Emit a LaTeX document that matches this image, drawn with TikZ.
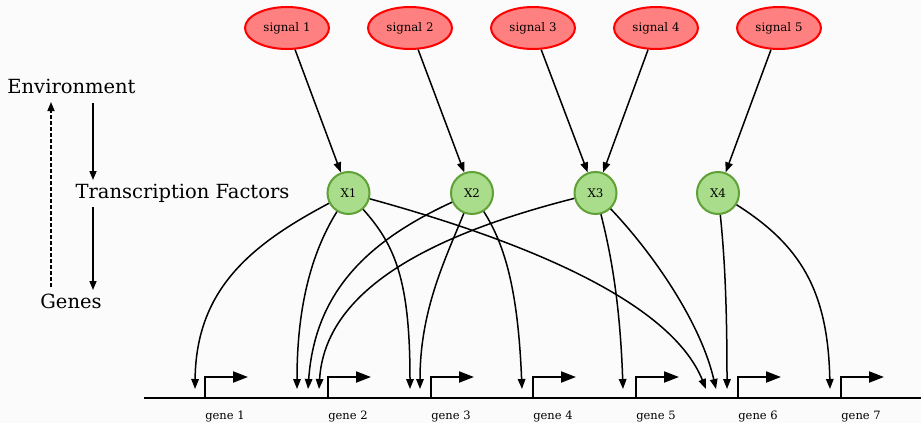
\documentclass[tikz,border=0pt]{standalone}
\usepackage{fontspec}
\setmainfont{DejaVu Serif}
\usetikzlibrary{arrows.meta,shapes.geometric}
\definecolor{bg}{RGB}{251,251,251}
\definecolor{sigfill}{RGB}{255,128,128}
\definecolor{sigdraw}{RGB}{255,0,0}
\definecolor{tffill}{RGB}{169,221,139}
\definecolor{tfdraw}{RGB}{95,160,55}
\begin{document}
\begin{tikzpicture}[x=1pt,y=-1pt,
 sig/.style={ellipse,draw=sigdraw,fill=sigfill,line width=2pt,minimum width=84pt,minimum height=42pt,inner sep=0pt,font=\fontsize{11.8}{13}\selectfont},
 tf/.style={circle,draw=tfdraw,fill=tffill,line width=2pt,minimum size=42pt,inner sep=0pt,font=\fontsize{11.8}{13}\selectfont},
 big/.style={font=\fontsize{19.5}{22}\selectfont,inner sep=0pt,anchor=base},
 glabel/.style={font=\fontsize{11.5}{13}\selectfont,inner sep=0pt,anchor=base},
 conn/.style={line width=1.5pt,-{Triangle[length=10pt,width=7.5pt]}},
 prom/.style={line width=2pt,-{Triangle[length=15pt,width=11pt]}},
 leftarr/.style={line width=1.5pt,-{Triangle[length=9pt,width=7pt]}},
]
\fill[bg] (0,0) rectangle (921,423);
\useasboundingbox (0,0) rectangle (921,423);

% signals
\node[sig] (s1) at (287,28) {signal 1};
\node[sig] (s2) at (410,28) {signal 2};
\node[sig] (s3) at (533,28) {signal 3};
\node[sig] (s4) at (656,28) {signal 4};
\node[sig] (s5) at (779,28) {signal 5};

% transcription factors
\node[tf] (x1) at (348.5,193) {X1};
\node[tf] (x2) at (472,193) {X2};
\node[tf] (x3) at (595.5,193) {X3};
\node[tf] (x4) at (718,193) {X4};

\draw[conn] (s1) -- (x1);
\draw[conn] (s2) -- (x2);
\draw[conn] (s3) -- (x3);
\draw[conn] (s4) -- (x3);
\draw[conn] (s5) -- (x4);

% left labels
\node[big] (env) at (71.5,93) {Environment};
\node[big] (tfl) at (182.5,198) {Transcription Factors};
\node[big] (gen) at (71,308) {Genes};
\coordinate (la1s) at (93,103);
\coordinate (la1e) at (93,180);
\coordinate (la2s) at (93,207);
\coordinate (la2e) at (93,290);
\coordinate (lds) at (51,287);
\coordinate (lde) at (51,102);
\draw[leftarr] (la1s) -- (la1e);
\draw[leftarr] (la2s) -- (la2e);
\draw[leftarr,dash pattern=on 4pt off 2pt] (lds) -- (lde);

% genes
\draw[line width=2pt] (144,398) -- (921,398);
\foreach \i/\x in {1/205,2/328,3/431,4/533,5/636,6/738,7/841}{
  \draw[prom] (\x,398) -- (\x,377) -- (\x+43,377);
  \node[glabel] (gl\i) at (\x+20,419) {gene \i};
}

% targets
\coordinate (t1) at (195,389);
\coordinate (t2a) at (297,389);
\coordinate (t2b) at (308,389);
\coordinate (t2c) at (319,389);
\coordinate (t3a) at (410,389);
\coordinate (t3b) at (420,389);
\coordinate (t4) at (522,389);
\coordinate (t5) at (623,389);
\coordinate (t6a) at (706,389);
\coordinate (t6b) at (716,389);
\coordinate (t6c) at (727,389);
\coordinate (t7) at (830,389);

\draw[conn] (x1) .. controls (250,245) and (196,290) .. (t1);
\draw[conn] (x1) .. controls (310,255) and (297,310) .. (t2a);
\draw[conn] (x1) .. controls (395,245) and (410,280) .. (t3a);
\draw[conn] (x1) .. controls (520,240) and (670,300) .. (t6a);
\draw[conn] (x2) .. controls (370,240) and (315,290) .. (t2b);
\draw[conn] (x2) .. controls (445,260) and (420,310) .. (t3b);
\draw[conn] (x2) .. controls (505,245) and (518,290) .. (t4);
\draw[conn] (x3) .. controls (430,235) and (325,290) .. (t2c);
\draw[conn] (x3) .. controls (610,250) and (620,300) .. (t5);
\draw[conn] (x3) .. controls (650,250) and (700,320) .. (t6b);
\draw[conn] (x4) .. controls (725,260) and (727,310) .. (t6c);
\draw[conn] (x4) .. controls (800,245) and (828,290) .. (t7);
\end{tikzpicture}
\end{document}
